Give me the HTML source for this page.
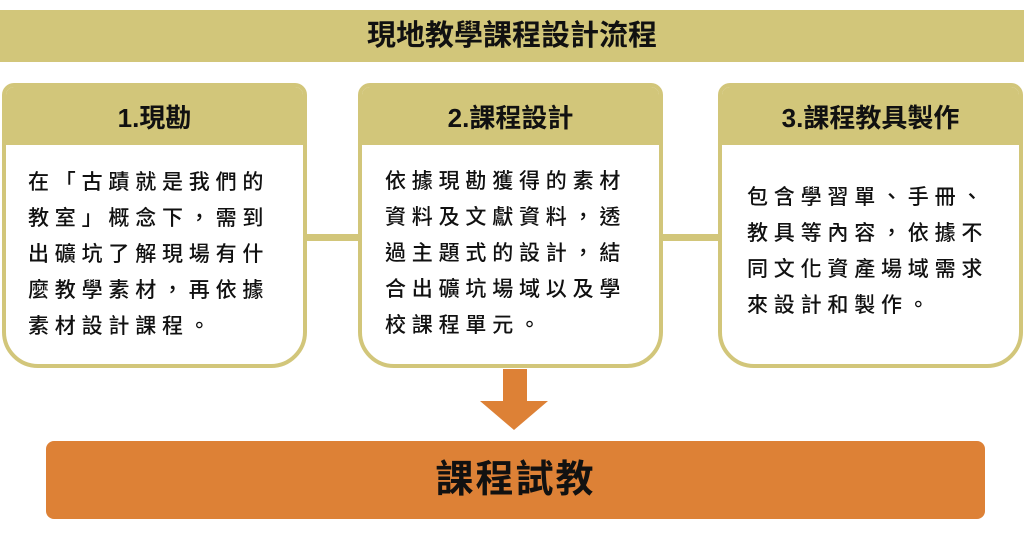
<!DOCTYPE html>
<html><head><meta charset="utf-8"><style>
body{margin:0;width:1024px;height:534px;background:#fff;position:relative;overflow:hidden;font-family:"Liberation Sans","Noto Sans CJK TC",sans-serif;}
.t{position:absolute;left:0;top:10px;width:1024px;height:52px;background:#d2c67a;text-align:center;line-height:52px;font-size:29px;font-weight:bold;color:#111;}
.box{position:absolute;top:83px;width:297px;height:277px;border:4px solid #d2c67a;border-radius:12px 12px 36px 36px;background:#fff;overflow:hidden;}
.hd{height:58px;background:#d2c67a;text-align:center;line-height:62px;font-size:26px;font-weight:bold;color:#111;}
.tx{position:absolute;font-size:21px;letter-spacing:5.8px;line-height:36px;color:#111;white-space:nowrap;font-weight:500;}
.c{position:absolute;top:234px;height:7px;background:#d2c67a;}
.o{position:absolute;left:46px;top:441px;width:939px;height:78px;background:#dd8136;border-radius:8px;text-align:center;line-height:78px;font-size:38px;font-weight:bold;color:#111;letter-spacing:2px;}
</style></head><body>
<div class="t">現地教學課程設計流程</div>
<div class="c" style="left:305px;width:56px"></div>
<div class="c" style="left:662px;width:60px"></div>
<div class="box" style="left:2px"><div class="hd">1.現勘</div><div class="tx" style="left:22px;top:78px">在「古蹟就是我們的<br>教室」概念下，需到<br>出礦坑了解現場有什<br>麼教學素材，再依據<br>素材設計課程。</div></div>
<div class="box" style="left:358px"><div class="hd">2.課程設計</div><div class="tx" style="left:23px;top:77px">依據現勘獲得的素材<br>資料及文獻資料，透<br>過主題式的設計，結<br>合出礦坑場域以及學<br>校課程單元。</div></div>
<div class="box" style="left:718px"><div class="hd">3.課程教具製作</div><div class="tx" style="left:25px;top:93px">包含學習單、手冊、<br>教具等內容，依據不<br>同文化資產場域需求<br>來設計和製作。</div></div>
<svg style="position:absolute;left:0;top:0" width="1024" height="534"><rect x="503" y="369" width="24" height="33" fill="#dd8136"/><polygon points="480,401 548,401 514,430" fill="#dd8136"/></svg>
<div class="o">課程試教</div>
</body></html>
